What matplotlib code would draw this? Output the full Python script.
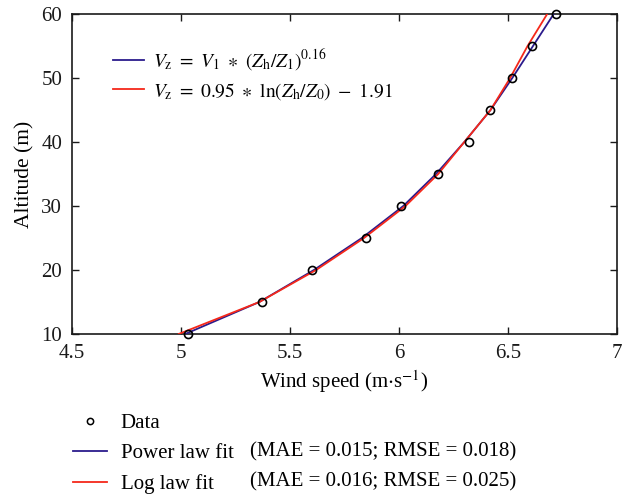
import matplotlib

matplotlib.use("Agg")
import matplotlib.pyplot as plt
from matplotlib.lines import Line2D

BLUE = "#2b1b8c"
RED = "#f5281a"
INK = "#1a1a1a"

plt.rcParams.update({
    "font.family": "Liberation Serif", "font.size": 15,
    "mathtext.fontset": "stix",
    "axes.edgecolor": INK, "axes.linewidth": 1.2,
    "xtick.direction": "in", "ytick.direction": "in",
    "xtick.top": True, "ytick.right": True,
})

# observed data
data_speed = [5.03, 5.37, 5.60, 5.85, 6.01, 6.18, 6.32, 6.42, 6.52, 6.61, 6.72]
data_alt = [10, 15, 20, 25, 30, 35, 40, 45, 50, 55, 60]

# fitted profiles
fit_alt = [10, 15, 20, 25, 30, 35, 40, 45, 50, 55, 60]
power_speed = [5.02, 5.36, 5.61, 5.83, 6.02, 6.17, 6.30, 6.42, 6.52, 6.615, 6.71]
log_speed = [4.99, 5.36, 5.62, 5.84, 6.03, 6.18, 6.30, 6.42, 6.51, 6.59, 6.68]

fig = plt.figure(figsize=(6.34, 4.94), dpi=100)
ax = fig.add_axes([0.1136, 0.324, 0.8594, 0.6475])

l_pow, = ax.plot(power_speed, fit_alt, color=BLUE, lw=1.3, zorder=3)
l_log, = ax.plot(log_speed, fit_alt, color=RED, lw=1.3, zorder=3)
pts, = ax.plot(data_speed, data_alt, "o", mfc="none", mec="black", ms=5.8, mew=1.2,
               zorder=4, clip_on=False)

ax.set_xlim(4.5, 7)
ax.set_ylim(10, 60)
ax.set_xticks([4.5, 5, 5.5, 6, 6.5, 7])
ax.set_xticklabels(["4.5", "5", "5.5", "6", "6.5", "7"])
ax.set_yticks([10, 20, 30, 40, 50, 60])
ax.tick_params(length=5, width=1, colors=INK, labelsize=15)
ax.tick_params(axis="x", pad=7)
ax.tick_params(axis="y", pad=7)
ax.set_xlabel(r"Wind speed (m$\cdot$s$^{-1}$)", fontsize=15, labelpad=4)
ax.set_ylabel("Altitude (m)", fontsize=15.5, labelpad=5)

ax.legend([l_pow, l_log],
          [r"$V_\mathrm{z}\ =\ V_1\ \ast\ (Z_\mathrm{h}/Z_1)^{0.16}$",
           r"$V_\mathrm{z}\ =\ 0.95\ \ast\ \ln(Z_\mathrm{h}/Z_0)\ -\ 1.91$"],
          loc="upper left", bbox_to_anchor=(0.044, 0.95), frameon=False,
          fontsize=14, handlelength=1.55, handletextpad=0.46, labelspacing=0.4)

# bottom legend
fig.legend([Line2D([], [], ls="none", marker="o", mfc="none", mec="black", ms=4.5, mew=1.1),
            Line2D([], [], color=BLUE, lw=1.3),
            Line2D([], [], color=RED, lw=1.3)],
           ["Data", "Power law fit", "Log law fit"],
           loc="upper left", bbox_to_anchor=(0.115, 0.163), frameon=False,
           fontsize=15, handlelength=1.63, handletextpad=0.67, labelspacing=0.52,
           borderaxespad=0, borderpad=0)
fig.text(250 / 634, 1 - 452 / 494, "(MAE = 0.015; RMSE = 0.018)", fontsize=15, va="center")
fig.text(250 / 634, 1 - 482 / 494, "(MAE = 0.016; RMSE = 0.025)", fontsize=15, va="center")

fig.savefig("out.png", dpi=100)
